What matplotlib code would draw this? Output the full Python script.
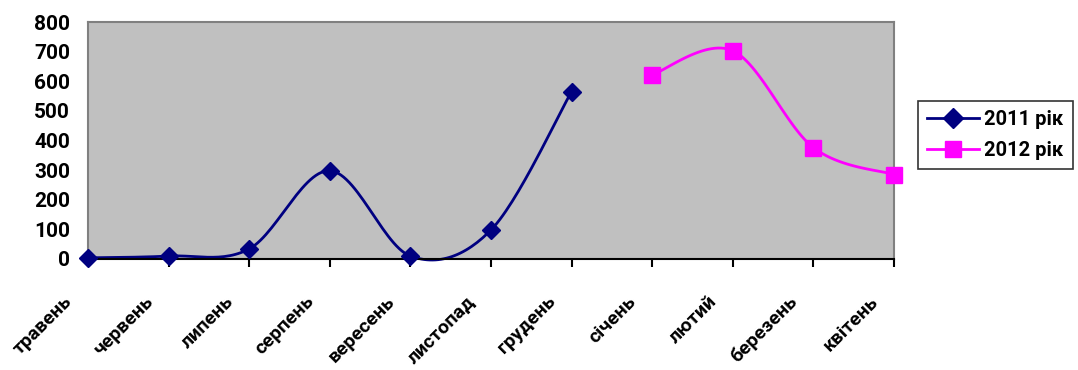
import numpy as np
import matplotlib.pyplot as plt

months = ["травень", "червень", "липень", "серпень", "вересень", "листопад",
          "грудень", "січень", "лютий", "березень", "квітень"]
values_2011 = [4, 10, 34, 298, 10, 98, 565]
values_2012 = [622, 703, 376, 285]
start_2012 = 7
y_ticks = [0, 100, 200, 300, 400, 500, 600, 700, 800]

plt.rcParams['font.family'] = ['Roboto', 'DejaVu Sans']
plt.rcParams['font.weight'] = 'bold'


def smooth(xs, ys, n=30):
    # Excel-like smoothed line: Bezier segments with Catmull-Rom control points
    xs = np.asarray(xs, float)
    ys = np.asarray(ys, float)
    px, py = [], []
    for i in range(len(xs) - 1):
        i0 = max(i - 1, 0)
        i3 = min(i + 2, len(xs) - 1)
        c1x = xs[i] + (xs[i + 1] - xs[i0]) / 6
        c1y = ys[i] + (ys[i + 1] - ys[i0]) / 6
        c2x = xs[i + 1] - (xs[i3] - xs[i]) / 6
        c2y = ys[i + 1] - (ys[i3] - ys[i]) / 6
        t = np.linspace(0, 1, n)
        bx = (1 - t) ** 3 * xs[i] + 3 * (1 - t) ** 2 * t * c1x + 3 * (1 - t) * t ** 2 * c2x + t ** 3 * xs[i + 1]
        by = (1 - t) ** 3 * ys[i] + 3 * (1 - t) ** 2 * t * c1y + 3 * (1 - t) * t ** 2 * c2y + t ** 3 * ys[i + 1]
        px.extend(bx)
        py.extend(by)
    return px, py


fig = plt.figure(figsize=(10.78, 3.70), dpi=100)
ax = fig.add_axes([0.0816, 0.30, 0.7477, 0.6405])
ax.set_facecolor('#c0c0c0')

x11 = list(range(len(values_2011)))
x12 = list(range(start_2012, start_2012 + len(values_2012)))

sx, sy = smooth(x11, values_2011)
ax.plot(sx, sy, color='#000080', lw=2, clip_on=False)
ax.plot(x11, values_2011, ls='none', marker='D', ms=9, color='#000080', clip_on=False, zorder=3)
sx, sy = smooth(x12, values_2012)
ax.plot(sx, sy, color='#ff00ff', lw=2, clip_on=False)
ax.plot(x12, values_2012, ls='none', marker='s', ms=11, color='#ff00ff', clip_on=False, zorder=3)

h1, = ax.plot([], [], color='#000080', lw=2, marker='D', ms=10, label='2011 рік')
h2, = ax.plot([], [], color='#ff00ff', lw=2, marker='s', ms=12, label='2012 рік')

ax.set_xlim(0, len(months) - 1)
ax.set_ylim(0, 800)
ax.set_yticks(y_ticks)
ax.set_xticks(range(len(months)))
ax.set_xticklabels([])
for i, m in enumerate(months):
    ax.annotate(m, xy=(i, 0), xycoords=('data', 'axes fraction'),
                xytext=(-18, -24), textcoords='offset points',
                rotation=45, ha='right', va='top', rotation_mode='anchor',
                fontsize=14, fontweight='bold', annotation_clip=False)
ax.tick_params(axis='y', length=0, pad=13, labelsize=15)
ax.tick_params(axis='x', length=6, width=1.5, direction='out')
for lab in ax.get_yticklabels():
    lab.set_fontweight('bold')

for s in ['left', 'top', 'right']:
    ax.spines[s].set_color('#808080')
    ax.spines[s].set_linewidth(1.5)
ax.spines['bottom'].set_color('black')
ax.spines['bottom'].set_linewidth(1.5)

leg = fig.legend(handles=[h1, h2], loc='upper left', bbox_to_anchor=(0.8516, 0.727),
                 frameon=True, fancybox=False, edgecolor='black',
                 handlelength=2.6, handletextpad=0.25, borderpad=0.45, borderaxespad=0,
                 labelspacing=0.6, prop={'weight': 'bold', 'size': 14.5})
leg.get_frame().set_linewidth(1.2)

fig.savefig('out.png', dpi=100)
